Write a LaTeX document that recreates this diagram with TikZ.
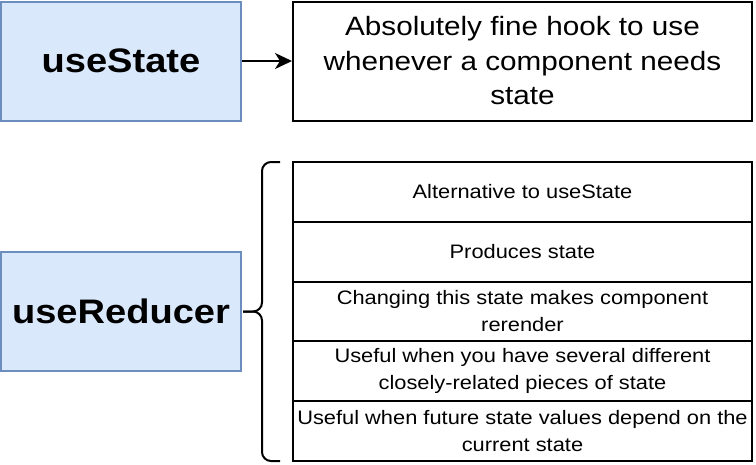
\documentclass[tikz,border=0pt]{standalone}
\usepackage{fontspec}
\setmainfont{Liberation Sans}[FakeStretch=1.12]
\usetikzlibrary{arrows.meta}
\definecolor{hookfill}{HTML}{DAE8FC}
\definecolor{hookline}{HTML}{6C8EBF}

\begin{document}
\begin{tikzpicture}[x=1pt, y=-1pt,
  hookbox/.style={draw=hookline, fill=hookfill, line width=2pt, minimum width=240pt, minimum height=119pt, font=\fontsize{34}{40}\selectfont\bfseries},
  notebox/.style={draw, line width=2pt, minimum width=459pt, minimum height=119pt, inner sep=2pt, align=center, font=\fontsize{26.5}{34.5}\selectfont},
  rowbox/.style={draw, line width=2pt, minimum width=459pt, minimum height=59.8pt, inner sep=1pt, align=center, font=\fontsize{19.5}{27}\selectfont}]
\useasboundingbox (0,0) rectangle (756,464);

% useState
\node[hookbox] (state) at (121,61) {useState};
\node[notebox] (statenote) at (522.5,61) {Absolutely fine hook to use\\whenever a component needs\\state};
\draw[-{Stealth[length=17pt, width=16pt, inset=5pt]}, line width=2pt] (state) -- (statenote);

% useReducer
\node[hookbox] (reducer) at (121,311) {useReducer};

\node[rowbox] (r1) at (522.5,191.9) {Alternative to useState};
\node[rowbox] (r2) at (522.5,251.7) {Produces state};
\node[rowbox] (r3) at (522.5,311.5) {Changing this state makes component\\rerender};
\node[rowbox] (r4) at (522.5,371.3) {Useful when you have several different\\closely-related pieces of state};
\node[rowbox] (r5) at (522.5,431.1) {Useful when future state values depend on the\\current state};

% brace
\draw[line width=2pt, rounded corners=9pt] (280,162) -- (262,162) -- (262,311.5) -- (243,311.5);
\draw[line width=2pt, rounded corners=9pt] (280,461) -- (262,461) -- (262,311.5) -- (243,311.5);
\end{tikzpicture}
\end{document}
